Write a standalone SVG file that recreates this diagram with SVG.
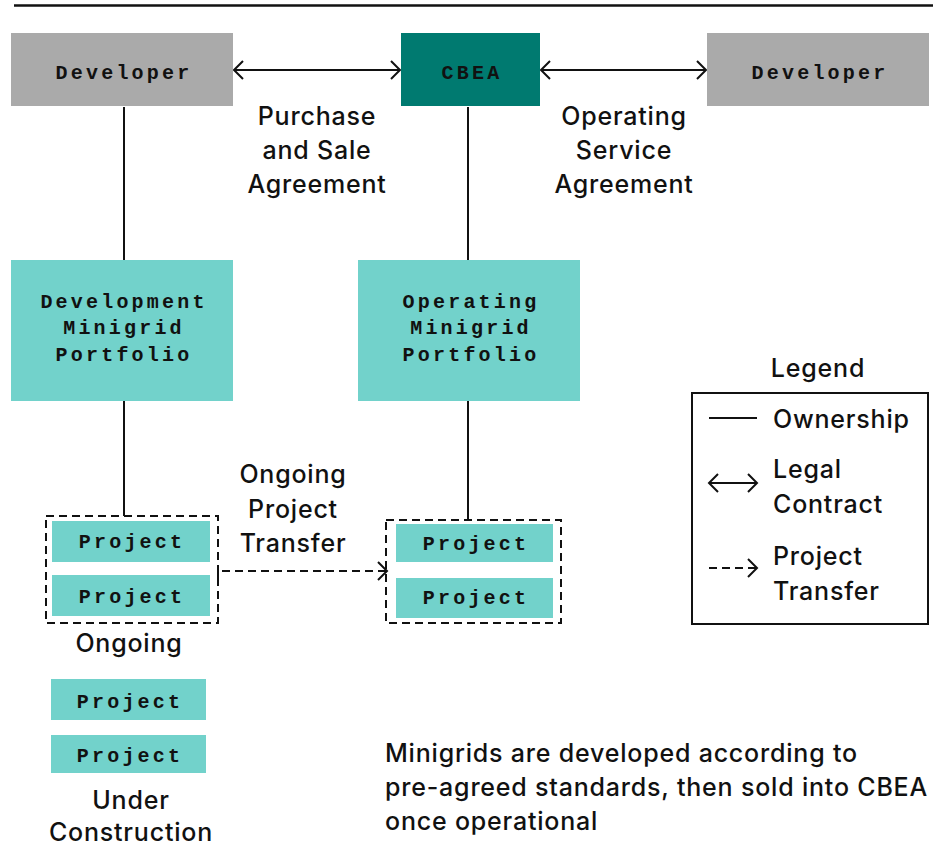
<svg xmlns="http://www.w3.org/2000/svg" width="938" height="847" viewBox="0 0 938 847">
<defs>
<style>
.mono{font-family:"Liberation Mono","DejaVu Sans Mono",monospace;font-weight:bold;font-size:20px;letter-spacing:3.2px;fill:#111;text-anchor:middle}
.lbl{font-family:Inter,"Liberation Sans",Arial,sans-serif;font-size:25px;font-weight:500;letter-spacing:0.8px;fill:#111}
.c{text-anchor:middle}
.gray{fill:#aaaaaa}
.dark{fill:#007a70}
.teal{fill:#72d2cb}
.ln{stroke:#111;stroke-width:2;fill:none}
.dash{stroke:#111;stroke-width:2;fill:none;stroke-dasharray:8 5}
</style>
<marker id="ah" markerUnits="userSpaceOnUse" markerWidth="14" markerHeight="22" refX="11" refY="11" orient="auto-start-reverse" viewBox="0 0 14 22">
<path d="M2,2 L11,11 L2,20" fill="none" stroke="#111" stroke-width="2"/>
</marker>
</defs>
<rect width="938" height="847" fill="#fff"/>
<line x1="14" y1="5.5" x2="933" y2="5.5" stroke="#111" stroke-width="2.5"/>

<g id="connectors">
<line class="ln" x1="234" y1="70" x2="400" y2="70" marker-start="url(#ah)" marker-end="url(#ah)"/>
<line class="ln" x1="541" y1="70" x2="706" y2="70" marker-start="url(#ah)" marker-end="url(#ah)"/>
<line class="ln" x1="124" y1="107" x2="124" y2="260"/>
<line class="ln" x1="468" y1="107" x2="468" y2="260"/>
<line class="ln" x1="124" y1="401" x2="124" y2="516"/>
<line class="ln" x1="468" y1="401" x2="468" y2="520"/>
<path class="dash" d="M218,580 L218,571 L387,571" marker-end="url(#ah)"/>
<text class="lbl c" x="317" y="125">Purchase</text>
<text class="lbl c" x="317" y="159">and Sale</text>
<text class="lbl c" x="317" y="193">Agreement</text>
<text class="lbl c" x="624" y="125">Operating</text>
<text class="lbl c" x="624" y="159">Service</text>
<text class="lbl c" x="624" y="193">Agreement</text>
<text class="lbl c" x="293" y="483">Ongoing</text>
<text class="lbl c" x="293" y="518">Project</text>
<text class="lbl c" x="293" y="552">Transfer</text>
</g>

<g id="developer-left">
<rect class="gray" x="11" y="33" width="222" height="73"/>
<text class="mono" x="124" y="79">Developer</text>
</g>
<g id="cbea">
<rect class="dark" x="401" y="33" width="139" height="73"/>
<text class="mono" x="472" y="79">CBEA</text>
</g>
<g id="developer-right">
<rect class="gray" x="707" y="33" width="222" height="73"/>
<text class="mono" x="820" y="79">Developer</text>
</g>

<g id="dev-portfolio">
<rect class="teal" x="11" y="260" width="222" height="141"/>
<text class="mono" x="124" y="308">Development</text>
<text class="mono" x="124" y="334">Minigrid</text>
<text class="mono" x="124" y="361">Portfolio</text>
</g>
<g id="op-portfolio">
<rect class="teal" x="358" y="260" width="222" height="141"/>
<text class="mono" x="471" y="308">Operating</text>
<text class="mono" x="471" y="334">Minigrid</text>
<text class="mono" x="471" y="361">Portfolio</text>
</g>

<g id="ongoing-group">
<rect class="dash" x="46" y="516" width="172" height="107"/>
<rect class="teal" x="52" y="521" width="158" height="41"/>
<text class="mono" x="132" y="548">Project</text>
<rect class="teal" x="52" y="575" width="158" height="41"/>
<text class="mono" x="132" y="603">Project</text>
<text class="lbl c" x="129" y="652">Ongoing</text>
</g>

<g id="operating-group">
<rect class="dash" x="386" y="520" width="175" height="103"/>
<rect class="teal" x="396" y="524" width="157" height="38"/>
<text class="mono" x="476" y="550">Project</text>
<rect class="teal" x="396" y="578" width="157" height="40"/>
<text class="mono" x="476" y="604">Project</text>
</g>

<g id="construction-group">
<rect class="teal" x="51" y="679" width="155" height="41"/>
<text class="mono" x="130" y="708">Project</text>
<rect class="teal" x="51" y="735" width="155" height="38"/>
<text class="mono" x="130" y="762">Project</text>
<text class="lbl c" x="131" y="809">Under</text>
<text class="lbl c" x="131" y="841">Construction</text>
</g>

<g id="legend">
<text class="lbl c" x="818" y="377">Legend</text>
<rect x="692" y="393" width="236" height="231" fill="none" stroke="#111" stroke-width="2"/>
<line class="ln" x1="709" y1="418" x2="757" y2="418"/>
<text class="lbl" x="773" y="428">Ownership</text>
<line class="ln" x1="709" y1="483" x2="757" y2="483" marker-start="url(#ah)" marker-end="url(#ah)"/>
<text class="lbl" x="773" y="478">Legal</text>
<text class="lbl" x="773" y="513">Contract</text>
<line class="dash" x1="709" y1="568" x2="757" y2="568" marker-end="url(#ah)"/>
<text class="lbl" x="773" y="565">Project</text>
<text class="lbl" x="773" y="600">Transfer</text>
</g>

<g id="note">
<text class="lbl" x="385" y="762">Minigrids are developed according to</text>
<text class="lbl" x="385" y="796">pre-agreed standards, then sold into CBEA</text>
<text class="lbl" x="385" y="830">once operational</text>
</g>
</svg>
